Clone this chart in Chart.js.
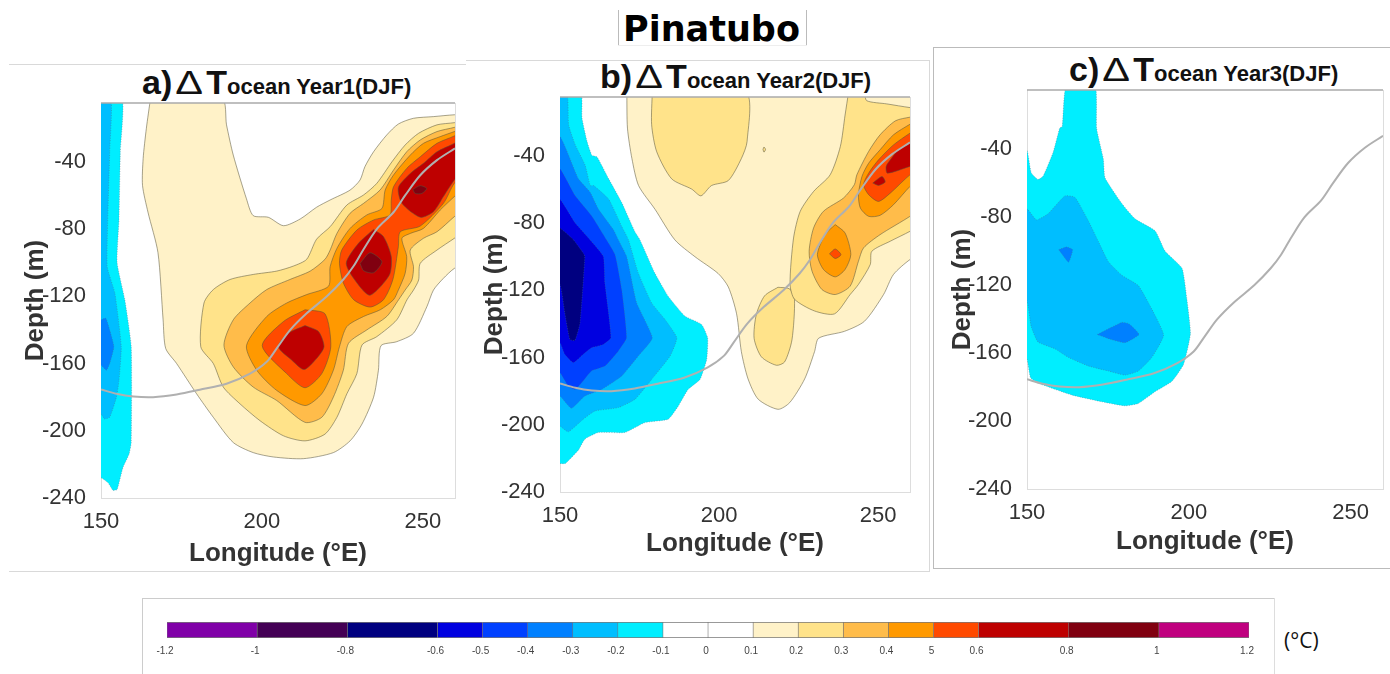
<!DOCTYPE html>
<html><head><meta charset="utf-8">
<script src="https://cdn.jsdelivr.net/npm/chart.js@4"></script>
<style>
html,body{margin:0;padding:0;background:#fff;width:1390px;height:674px;overflow:hidden;font-family:"Liberation Sans",sans-serif}
canvas{position:absolute}
.line{position:absolute;background:#d9d9d9}
.ttl{position:absolute;white-space:nowrap;font-weight:bold;color:#111;line-height:40px;height:40px}
.ttl .big{font-size:34px}.ttl .d{display:inline-block;width:34px;text-align:center;font-size:34px;font-weight:normal;transform:scaleX(1.22)}.ttl .sub{font-size:22px}
#main{position:absolute;left:623px;top:8px;font:bold 35px "DejaVu Sans";color:#000;line-height:42px}
#unit{position:absolute;left:1284px;top:626px;font:21px "Open Sans";color:#111;line-height:28px}
</style></head><body>
<div class="line" style="left:618px;top:10px;width:1px;height:36px;background:#bbb"></div>
<div class="line" style="left:806px;top:10px;width:1px;height:36px;background:#bbb"></div>
<div class="line" style="left:618px;top:45px;width:189px;height:1px;background:#eee"></div>
<div class="line" style="left:9px;top:64px;width:457px;height:1px"></div>
<div class="line" style="left:9px;top:571px;width:457px;height:1px"></div>
<div class="line" style="left:466px;top:60px;width:464px;height:1px"></div>
<div class="line" style="left:466px;top:571px;width:464px;height:1px"></div>
<div class="line" style="left:929px;top:60px;width:1px;height:512px"></div>
<div class="line" style="left:933px;top:47px;width:457px;height:1px;background:#bbb"></div>
<div class="line" style="left:933px;top:568px;width:457px;height:1px;background:#bbb"></div>
<div class="line" style="left:933px;top:47px;width:1px;height:522px;background:#bbb"></div>
<div class="line" style="left:142px;top:598px;width:1132px;height:1px;background:#ccc"></div>
<div class="line" style="left:142px;top:598px;width:1px;height:76px;background:#ccc"></div>
<div class="line" style="left:1274px;top:598px;width:1px;height:76px;background:#ddd"></div>
<div id="main">Pinatubo</div>
<div id="unit">(°C)</div>
<div class="ttl" style="left:142px;top:62px"><span class="big">a)</span><span class="d">Δ</span><span class="big">T</span><span class="sub">ocean Year1(DJF)</span></div>
<div class="ttl" style="left:600px;top:56px"><span class="big">b)</span><span class="d">Δ</span><span class="big">T</span><span class="sub">ocean Year2(DJF)</span></div>
<div class="ttl" style="left:1069px;top:49px"><span class="big">c)</span><span class="d">Δ</span><span class="big">T</span><span class="sub">ocean Year3(DJF)</span></div>
<canvas id="ca"></canvas><canvas id="cb"></canvas><canvas id="cc"></canvas><canvas id="cbar"></canvas>
<script>
// ---- axis ticks ----
const lonTicks = [150,200,250];
const depthTicks = [-40,-80,-120,-160,-200,-240];
// ---- colour-bar ----
const barEdges = [-1.2,-1,-0.8,-0.6,-0.5,-0.4,-0.3,-0.2,-0.1,0,0.1,0.2,0.3,0.4,0.5,0.6,0.8,1,1.2];
const barLabels = ['-1.2','-1','-0.8','-0.6','-0.5','-0.4','-0.3','-0.2','-0.1','0','0.1','0.2','0.3','0.4','5','0.6','0.8','1','1.2'];
const barColors = ['#8000A8','#440055','#000080','#0000E0','#0040FF','#0080FF','#00BEFF','#00EEFF','#FFFFFF','#FFFFFF','#FFF2C8','#FFE38A','#FFBC4A','#FF9900','#FF4A00','#BE0000','#800010','#C0007F'];
const C = {c6:'#000080',c5:'#0000E0',c4:'#0040FF',c3:'#0080FF',c2:'#00BEFF',c1:'#00EEFF',w1:'#FFF2C8',w2:'#FFE38A',w3:'#FFBC4A',w4:'#FF9900',w5:'#FF4A00',w6:'#BE0000',w8:'#800010'};
// ---- grey curve (lon, depth) ----
const thermocline = [[150,-175.4],[154.8,-178],[160,-179.6],[166.2,-180],[173.5,-178.4],[180.7,-175.6],[189,-172],[196.3,-166],[201.5,-159],[204.6,-151],[208.8,-140],[214,-130],[220.2,-120],[225.3,-110],[228.5,-102],[231.6,-92],[235.7,-80],[240.9,-70],[244.5,-60],[249.2,-48],[254.4,-39],[260,-32]];
// ---- panel a contours (lon, depth) ----
const aW1 = [[165.4,-2],[164.1,-20],[163.1,-38],[162.9,-54],[164.6,-70],[167.7,-94],[169.3,-134],[170.1,-151],[173.5,-160],[179.7,-178],[184.9,-192],[191.1,-207],[197.3,-213],[203.6,-215.6],[212.9,-216.6],[222.2,-213],[227.4,-206],[231.1,-196],[234.7,-180],[236.2,-164],[237,-149.4],[241.9,-147],[247.1,-142],[251.3,-126],[253.3,-116.3],[256.4,-109.3],[259.8,-103.4],[264,-100],[264,-12],[259.8,-12],[253.3,-13.1],[247.1,-14.1],[242.4,-17.5],[238.8,-24],[234.7,-34],[232,-42.9],[230.5,-50.8],[227.4,-56.8],[221.2,-62.7],[217,-67],[211.9,-74],[206.7,-78],[202,-73],[197.3,-72],[195.2,-62],[191.1,-36],[189,-18],[187.5,-2]];
const aW2 = [[264,-15],[259.8,-16.7],[254.4,-18],[248.7,-23],[244.5,-30],[240.4,-40],[235.7,-52.8],[231.6,-59.7],[226.4,-65.7],[221.2,-78.6],[217,-86],[213.9,-98],[209.8,-102],[204.6,-105],[197.3,-107],[190.1,-110],[184.9,-116],[182,-124],[181,-150],[184.9,-160],[188,-174],[193.2,-184],[199.4,-194],[206.7,-203],[213.4,-206],[219.6,-202],[223.3,-192],[226.4,-178],[229.5,-166],[231.1,-149],[235.7,-144],[241.9,-134],[245.1,-122],[247.1,-116.3],[248.7,-110.3],[249.2,-100.4],[254.4,-92.5],[259.8,-85.5],[264,-80]];
const aW3 = [[264,-17],[259.8,-19.5],[254.4,-22],[249.2,-27],[245,-34],[240.9,-44.9],[236.7,-56.8],[231.6,-64.7],[227.4,-70.6],[223.3,-82.6],[221.2,-92.5],[219.6,-98],[215,-105],[208.7,-110],[201.5,-116],[196.3,-124],[191.1,-134],[188.2,-149],[191.1,-162],[197.3,-174],[204.6,-182],[213.4,-195],[218.6,-192],[222.2,-180],[225.3,-164],[226.9,-148],[232.6,-140],[238.8,-132],[242.5,-122],[244.5,-116.3],[246.6,-110.3],[247.1,-102.4],[246.1,-92.5],[250.2,-85.5],[254.4,-81.6],[259.8,-72.6],[264,-66]];
const aW4 = [[264,-19],[259.8,-22],[255.4,-25],[250.2,-29],[246.1,-36],[240.9,-47.8],[238.3,-56.8],[237.3,-67.7],[232.6,-71.6],[227.4,-79.6],[223.3,-91.5],[221.2,-102.4],[220.7,-114],[213.9,-119],[207.7,-124],[201.5,-132],[195.2,-149.4],[198.4,-164],[204.6,-176],[213.4,-185],[218.6,-178],[222.2,-164],[224.1,-150],[226.4,-138],[231.6,-132],[236.8,-128],[240.9,-122],[242.4,-116.3],[244.5,-106.4],[245,-96.4],[243.5,-85.5],[246.1,-82.6],[250.2,-79.6],[255.4,-68.7],[259.8,-60.7],[264,-54]];
const aW5a = [[264,-20],[259.8,-24.6],[254.4,-29],[249.2,-37],[245,-43.9],[240.9,-54.8],[240.2,-62.7],[239.8,-71.6],[234.7,-74.6],[229.5,-80.6],[224.8,-92.5],[224.1,-100.4],[225.3,-112],[228.5,-122],[233.6,-126.4],[237.8,-122],[240.7,-110],[242.4,-90.5],[243,-81.6],[249.2,-78.2],[256.4,-64.7],[259.8,-52.8],[264,-46]];
const aW5b = [[213.4,-128],[219.6,-130.4],[221.4,-150],[218.6,-166],[213.4,-174.4],[207.7,-166],[200.1,-149.4],[206.7,-135]];
const aW6a = [[264,-24],[259.8,-29],[254.4,-34],[250.2,-40.9],[246.1,-46.9],[242.4,-55.2],[243.5,-64.7],[249.2,-73],[253.3,-69.7],[256.4,-60.7],[259.8,-50.8],[264,-42]];
const aW6b = [[234.7,-80.2],[237.8,-84.5],[240.2,-96.4],[239.6,-107.4],[233.6,-119.4],[229.5,-112],[226.2,-100.4],[230,-88.5]];
const aW6c = [[213.4,-137.4],[217.6,-141],[219.3,-150],[217,-157],[213.1,-163.6],[209.3,-158],[205.1,-150],[208.2,-142]];
const aW8a = [[246.9,-56.4],[249.2,-54.2],[251.2,-55.8],[249.7,-58.8],[247.6,-58.8]];
const aW8b = [[230.5,-100.4],[233.6,-94.1],[237.3,-99.4],[234.7,-106],[231.6,-104.8]];
const aC1 = [[146,-2],[156.5,-2],[156,-34],[155.6,-74],[155,-100],[157.4,-122],[159.4,-150],[159.4,-207],[158.7,-214],[156.8,-222],[155,-235],[153.7,-235.4],[152.2,-231],[150,-228],[146,-228]];
const aC2 = [[146,-2],[153,-2],[152.7,-34],[151.9,-102],[154.3,-118],[156.3,-150],[155.6,-170],[154.8,-180],[152.7,-192],[151.1,-193],[150,-190],[146,-188]];
const aC3 = [[146,-134],[150,-134],[151.5,-133],[152.7,-140],[154,-150],[152.7,-160],[151.7,-164],[150,-161],[146,-160]];
// ---- panel b contours ----
const bC1 = [[146,-2],[156.5,-2],[156.9,-17.4],[158.5,-31.5],[160,-39.6],[161.6,-40.6],[165.3,-53.7],[169.4,-67.8],[173.5,-85],[175.1,-89.9],[179.8,-109.7],[184,-123.5],[189.3,-135.4],[194.5,-140.3],[196.4,-148.3],[196.1,-161.1],[194,-173],[190.3,-178.9],[187.2,-188.8],[184,-196.7],[176.7,-198.7],[170.4,-204.6],[162,-204.6],[157.8,-208.6],[155.8,-215],[151.7,-223],[150,-223],[146,-222]];
const bC2 = [[146,-2],[152.1,-2],[152.7,-21.5],[154.8,-33.5],[157.9,-45.6],[159.5,-57.7],[160.6,-57.7],[165.3,-65.8],[169.4,-82],[171.5,-89.9],[174.6,-109.7],[178.8,-127.5],[183,-137.4],[186.7,-148.3],[184.6,-159.1],[178.8,-173],[173.6,-184.8],[168.3,-189.8],[161,-191.8],[157.3,-196.7],[152.6,-204.2],[150,-200.7],[146,-197]];
const bC3 = [[146,-25],[150,-28.5],[152.7,-39.6],[155.8,-53.7],[159.5,-61.8],[162.1,-71.8],[166.8,-84],[168.3,-89.9],[170.9,-99.8],[174.1,-127.5],[179,-148.3],[174.6,-159.1],[169.4,-171],[163.1,-179],[157.8,-182.9],[153.6,-190.2],[150,-182.9],[146,-180]];
const bC4 = [[146,-45],[150,-47.7],[154.8,-63.8],[160,-75.9],[164.6,-89.9],[167.3,-98.8],[169.4,-119.6],[170.9,-148.3],[168.3,-156.2],[164.1,-165.1],[159.9,-168],[156.8,-175],[154.7,-179],[152.6,-177],[150,-169],[146,-165]];
const bC5 = [[146,-63],[150,-65.8],[154.8,-80],[159.4,-89.9],[163.6,-99.8],[164.1,-115.6],[166,-148.3],[163.6,-152.2],[159.9,-154.2],[157.3,-158.1],[154.2,-163.1],[151.5,-158.1],[150,-151.2],[146,-145]];
const bC6 = [[146,-80],[150,-83],[154.2,-89.9],[157.3,-97.8],[157.8,-99.8],[156.3,-139.4],[154.7,-149.8],[153.1,-149.2],[151.5,-133.4],[150,-116.6],[146,-110]];
const bW1 = [[171,-2],[171.2,-23.5],[172.6,-41.6],[174.7,-57.7],[179.9,-71.9],[186.1,-90],[192.4,-100],[199.7,-110],[202.9,-118],[205.5,-134],[207,-156.5],[209.1,-172.7],[212.3,-184.8],[218.5,-190.8],[222.2,-186.8],[226.9,-172.7],[230,-156.5],[231.3,-148.5],[239.4,-144.4],[245.7,-138.4],[251.7,-122.5],[254.8,-110.6],[260,-101.7],[264,-98],[264,-2]];
const bW2a = [[179,-2],[178.8,-21.5],[180.4,-37.6],[185.1,-53.7],[191.4,-59.8],[194.3,-63.8],[197.6,-57.7],[202.9,-54.7],[207,-41.6],[208.8,-31.5],[208.3,-2]];
const bW2b = [[213.8,-36.2],[214.1,-34.8],[214.6,-36.2],[214.1,-37.8]];
const bW2c = [[218.5,-118.2],[222.2,-119.2],[223.7,-125.3],[222.9,-149.5],[220.6,-162.6],[218,-164.6],[213.3,-159.6],[211,-148.5],[211.7,-134.4],[214.3,-123.3]];
const bW2d = [[240.7,-2],[239.6,-15.7],[238.1,-34.5],[234.9,-51.3],[229.7,-61.2],[225.5,-73],[223.4,-88.9],[222.3,-116.5],[223.7,-125.3],[230,-132.3],[236.3,-134],[241.2,-122.5],[243.8,-116.5],[247.5,-104.7],[248,-96.8],[253.8,-90.8],[260,-84.9],[264,-80],[264,-12],[260,-11.3],[252.7,-9.1],[246.4,-7.2],[245.4,-2]];
const bW3 = [[264,-16],[260,-17],[255.4,-19.2],[250.6,-27.5],[247,-37.4],[243.3,-51.3],[242.5,-57.2],[239.1,-65.1],[232.8,-73],[229.7,-82.9],[228.3,-96.8],[229.2,-108.6],[232.3,-119.5],[236.5,-122.5],[241.2,-117.5],[243.8,-102.7],[245.4,-94.8],[250.6,-86.9],[260,-76],[264,-70]];
const bW4a = [[264,-17],[260,-21.2],[254.8,-27.5],[250.6,-36.4],[247,-44.4],[244.9,-52.3],[243.8,-63.1],[244.4,-71.1],[247,-76],[250.6,-75.4],[254.8,-69.1],[260,-58.2],[264,-52]];
const bW4b = [[236.5,-80.9],[239.6,-85.9],[241.4,-98.7],[239.6,-107.6],[236.5,-112],[232.8,-107.6],[230.9,-98.7],[233.3,-86.9]];
const bW5a = [[264,-22],[260,-26.5],[254.8,-33.5],[250.1,-42.4],[247,-50.3],[245.4,-57.2],[247,-63.1],[250.1,-67.1],[253.8,-62.2],[260,-51.3],[264,-47]];
const bW5b = [[234.7,-98.3],[236.5,-95.4],[238.3,-98.8],[236.5,-101.1]];
const bW6a = [[264,-28],[260,-32.5],[256.4,-36.4],[253.8,-42.4],[252.5,-46.3],[252.9,-50.3],[260,-46.3],[264,-44]];
const bW6b = [[248.3,-56.2],[251.2,-52.3],[252.2,-55.6],[250.1,-57.6]];
// ---- panel c contours ----
const cC1 = [[146,-30],[150,-40.6],[151.3,-53.7],[153.4,-57.7],[155,-55.7],[158.1,-41.6],[160.1,-27.5],[160.9,-26.5],[162.2,-2],[171,-2],[171.5,-27.5],[173.6,-45.6],[174.1,-56.7],[179.3,-71.8],[183.4,-80.9],[189.6,-88],[192.7,-100],[197.9,-110],[199.4,-128.2],[200.5,-148.4],[198.4,-166.5],[194.8,-176.5],[189.6,-182.6],[184.4,-189.6],[180.3,-191],[173.1,-188.6],[163.8,-184.6],[153.4,-177.6],[151.1,-174.5],[150,-163.5],[146,-150]];
const cC2 = [[146,-75],[150,-75],[152.9,-81.5],[156.5,-77.9],[161.7,-67.4],[164.8,-68.2],[168.9,-81.9],[172,-94],[175.1,-106],[179.3,-114.1],[184.4,-120.2],[188.6,-134.2],[192.2,-149.4],[188.6,-162.4],[184.4,-170.5],[180.3,-172.9],[175.1,-170.5],[168.9,-167.5],[162.7,-162.4],[158.6,-157.4],[153.4,-153.4],[151.3,-144.3],[150,-129.2],[146,-120]];
const cC3a = [[159.8,-99],[162.2,-97.4],[164.1,-99],[162.9,-106.5],[161.7,-104]];
const cC3b = [[171.7,-149],[179.3,-141.9],[181.5,-142.7],[184.6,-149],[180.3,-153.8],[176.1,-152]];

const panelA = [[aW1,'w1'],[aW2,'w2'],[aW3,'w3'],[aW4,'w4'],[aW5a,'w5'],[aW5b,'w5'],[aW6a,'w6'],[aW6b,'w6'],[aW6c,'w6'],[aW8a,'w8'],[aW8b,'w8'],[aC1,'c1'],[aC2,'c2'],[aC3,'c3']];
const panelB = [[bW1,'w1'],[bW2a,'w2'],[bW2b,'w2'],[bW2c,'w2'],[bW2d,'w2'],[bW3,'w3'],[bW4a,'w4'],[bW4b,'w4'],[bW5a,'w5'],[bW5b,'w5'],[bW6a,'w6'],[bW6b,'w6'],[bC1,'c1'],[bC2,'c2'],[bC3,'c3'],[bC4,'c4'],[bC5,'c5'],[bC6,'c6']];
const panelC = [[cC1,'c1'],[cC2,'c2'],[cC3a,'c3'],[cC3b,'c3']];

const TXT = '#333', FONT = '"Liberation Sans"';
const frame = {id:'frame',afterDatasetsDraw(ch){const a=ch.chartArea,c=ch.ctx;c.save();c.lineWidth=1;
  c.strokeStyle='#ddd';c.beginPath();c.moveTo(a.right+.5,a.top);c.lineTo(a.right+.5,a.bottom);c.stroke();
  c.strokeStyle='#aaa';c.lineWidth=1.5;c.beginPath();c.moveTo(a.left,a.top);c.lineTo(a.right,a.top);c.stroke();c.restore();}};

function toPts(a){return a.map(p=>({x:p[0],y:p[1]}));}
function panel(id,box,polys){
  const cv=document.getElementById(id);
  cv.width=box.w;cv.height=box.h;cv.style.left=box.l+'px';cv.style.top=box.t+'px';cv.style.width=box.w+'px';cv.style.height=box.h+'px';
  const ds=[{type:'scatter',data:toPts(thermocline),showLine:true,pointRadius:0,borderColor:'#B0B0B0',borderWidth:2,tension:0.3,fill:false}];
  polys.slice().reverse().forEach(([p,k])=>{
    const cold=k[0]==='c';
    ds.push({type:'scatter',data:toPts(p.concat([p[0]])),showLine:true,pointRadius:0,backgroundColor:C[k],
      borderColor:cold?'rgba(70,110,130,.55)':'rgba(90,85,60,.6)',borderWidth:cold?0.8:0.9,borderDash:cold?[1,1.5]:[],tension:cold?0.15:0.25,fill:'shape'});
  });
  new Chart(cv,{type:'scatter',data:{datasets:ds},plugins:[frame],options:{responsive:false,animation:false,
    layout:{padding:{left:0,top:box.pt,right:box.pr,bottom:0}},
    plugins:{legend:{display:false},tooltip:{enabled:false},title:{display:false}},
    scales:{
      x:{type:'linear',min:150,max:260,position:'bottom',grid:{display:false},border:{color:'#ddd'},
        afterBuildTicks:s=>{s.ticks=lonTicks.map(v=>({value:v}));},
        afterFit:s=>{s.height=box.xh;},
        ticks:{autoSkip:false,maxRotation:0,padding:3,font:{family:FONT,size:22},color:TXT,callback:v=>String(v)},
        title:{display:true,text:'Longitude (°E)',font:{family:FONT,size:26,weight:'bold'},color:TXT,padding:{top:0,bottom:box.xb}}},
      y:{type:'linear',min:-240,max:-5,position:'left',grid:{display:false},border:{color:'#ddd'},
        afterBuildTicks:s=>{s.ticks=depthTicks.map(v=>({value:v}));},
        afterFit:s=>{s.width=box.yw;},
        ticks:{autoSkip:false,padding:7,font:{family:FONT,size:22},color:TXT,callback:v=>String(v)},
        title:{display:true,text:'Depth (m)',font:{family:FONT,size:26,weight:'bold'},color:TXT,padding:{top:box.yp,bottom:0}}}
    }}});
}
panel('ca',{l:9,t:66,w:457,h:505,pt:37,pr:11,xh:73,xb:2,yw:92,yp:11},panelA);
panel('cb',{l:466,t:62,w:463,h:509,pt:35,pr:19,xh:79,xb:12,yw:94,yp:13},panelB);
panel('cc',{l:934,t:50,w:456,h:518,pt:40,pr:7,xh:79,xb:11,yw:93,yp:13},panelC);

// colour bar
(function(){
  const cv=document.getElementById('cbar');const l=143,t=610,w=1130,h=60;
  cv.width=w;cv.height=h;cv.style.left=l+'px';cv.style.top=t+'px';cv.style.width=w+'px';cv.style.height=h+'px';
  const ds=barColors.map((col,i)=>({data:[[barEdges[i],barEdges[i+1]]],backgroundColor:col,borderColor:'#777',borderWidth:{left:0.6,right:0.6,top:1,bottom:1},borderSkipped:false,barPercentage:1,categoryPercentage:1,grouped:false}));
  new Chart(cv,{type:'bar',data:{labels:['dT'],datasets:ds},options:{indexAxis:'y',responsive:false,animation:false,
    layout:{padding:{left:24,right:24,top:12,bottom:0}},
    plugins:{legend:{display:false},tooltip:{enabled:false}},
    scales:{
      x:{type:'linear',min:-1.2,max:1.2,grid:{display:false},border:{display:false},
        afterBuildTicks:s=>{s.ticks=barEdges.map(v=>({value:v}));},
        afterFit:s=>{s.height=32;},
        ticks:{autoSkip:false,maxRotation:0,padding:-1,labelOffset:-2,font:{family:FONT,size:10},color:'#444',
          callback:(v,i)=>barLabels[i]}},
      y:{display:false,stacked:false}
    }}});
})();
</script>
</body></html>
